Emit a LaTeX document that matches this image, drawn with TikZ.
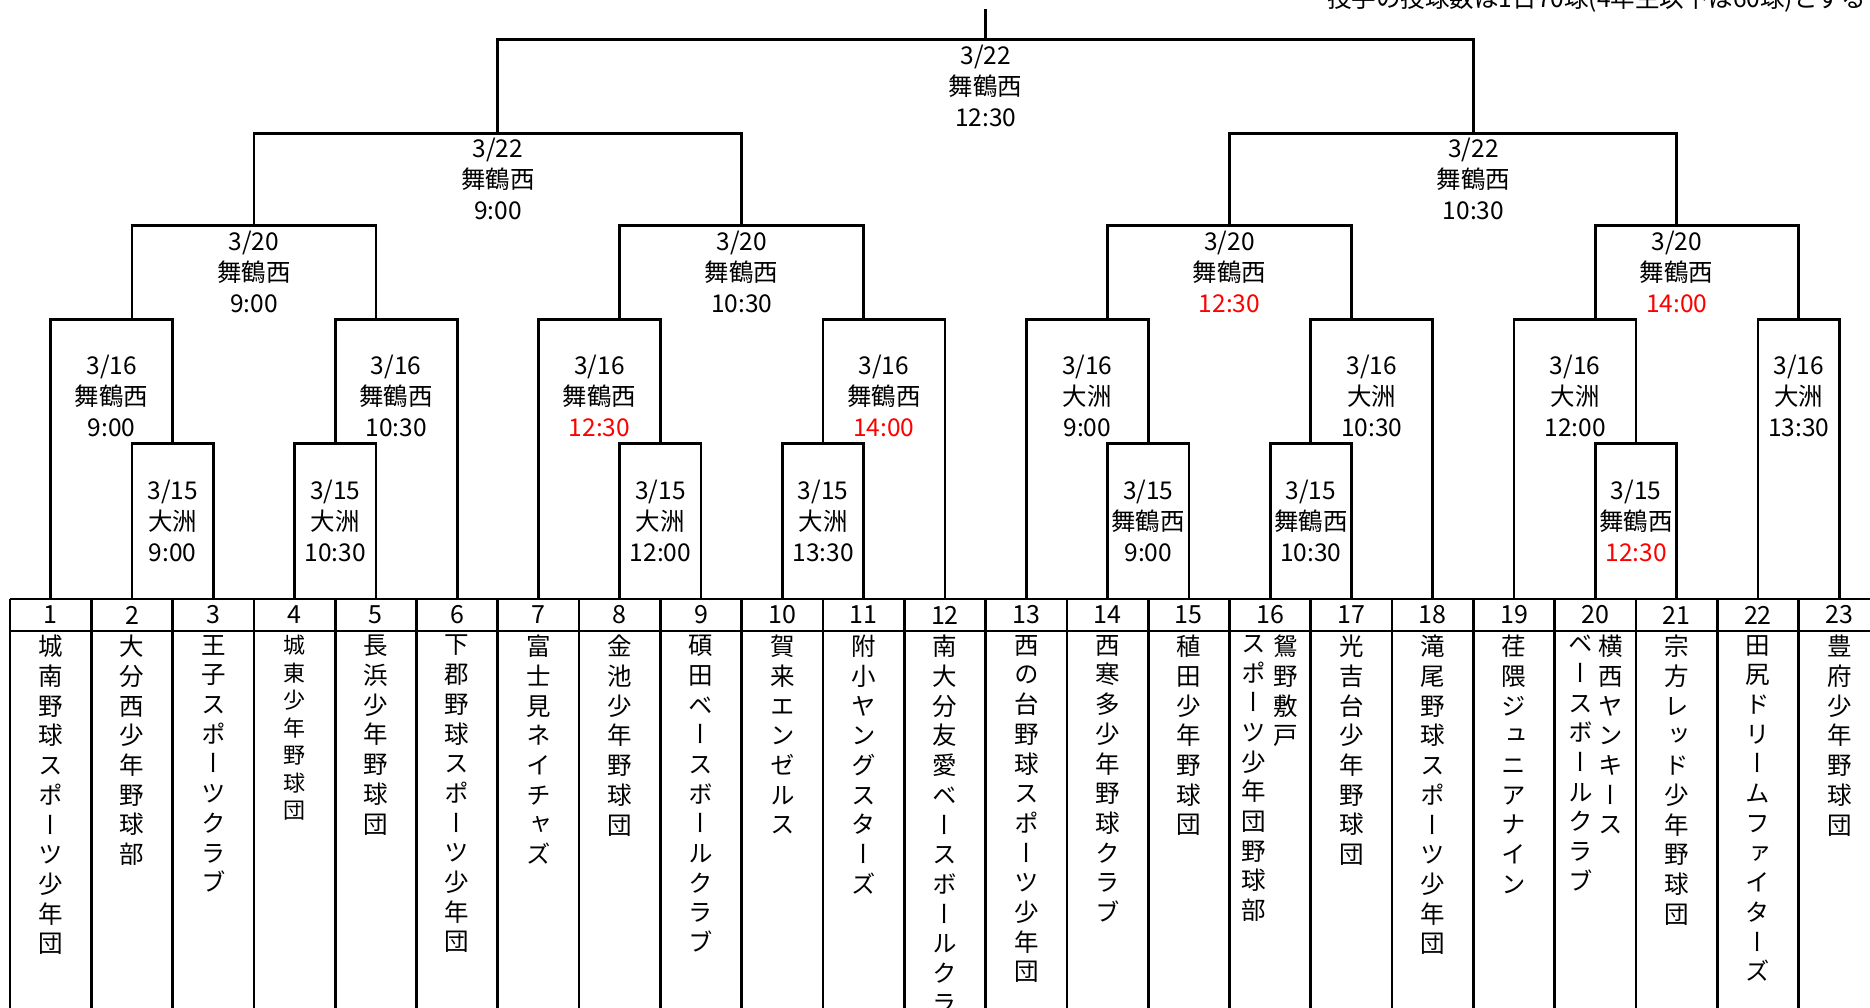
\documentclass[tikz,border=0pt]{standalone}
\usepackage{fontspec}
\setmainfont{Noto Sans CJK JP}
\newfontfamily\vjp[RawFeature=+vert]{Noto Sans CJK JP}
\begin{document}
\begin{tikzpicture}[x=81.3pt,y=-1pt,
  ln/.style={line width=2.7pt},
  info/.style={align=center,inner sep=0pt,font=\fontsize{24.5}{31}\selectfont},
  team/.style={anchor=north,align=center,inner sep=0pt,font=\vjp\fontsize{24.5}{29.7}\selectfont},
  teamsm/.style={team,font=\vjp\fontsize{22}{27.5}\selectfont},
  num/.style={inner sep=0pt,font=\fontsize{25}{30}\selectfont}]
\useasboundingbox (-0.123,0) rectangle (22.878,1007);

% note at top right (clipped by the page edge)
\node[anchor=base east,inner sep=0pt,font=\fontsize{24.5}{30}\selectfont] (note) at (22.83,7) {投手の投球数は1日70球(4年生以下は60球)とする};

% table
\draw[ln] (0,599) -- (23.5,599);
\draw[ln] (0,631) -- (23.5,631);
\foreach \k in {0,...,22} \draw[ln] (\k,599) -- (\k,1012);

\foreach \i in {1,...,23} {
  \coordinate (t\i) at ({\i-0.5},599);
  \node[num] (n\i) at ({\i-0.5},615) {\i};
}

% match points
\coordinate (ra) at (2,443.6);
\coordinate (rb) at (4,443.6);
\coordinate (rc) at (8,443.6);
\coordinate (rd) at (10,443.6);
\coordinate (re) at (14,443.6);
\coordinate (rf) at (16,443.6);
\coordinate (rg) at (20,443.6);
\coordinate (s1) at (1.5,319.6);
\coordinate (s2) at (4.5,319.6);
\coordinate (s3) at (7.5,319.6);
\coordinate (s4) at (10.5,319.6);
\coordinate (s5) at (13.5,319.6);
\coordinate (s6) at (16.5,319.6);
\coordinate (s7) at (19.5,319.6);
\coordinate (s8) at (22,319.6);
\coordinate (q1) at (3,225.4);
\coordinate (q2) at (9,225.4);
\coordinate (q3) at (15,225.4);
\coordinate (q4) at (20.5,225.4);
\coordinate (f1) at (6,133.6);
\coordinate (f2) at (18,133.6);
\coordinate (ch) at (12,39.4);
\coordinate (top) at (12,9);

% brackets
\draw[ln] (t2) |- (ra) -| (t3);
\draw[ln] (t4) |- (rb) -| (t5);
\draw[ln] (t8) |- (rc) -| (t9);
\draw[ln] (t10) |- (rd) -| (t11);
\draw[ln] (t14) |- (re) -| (t15);
\draw[ln] (t16) |- (rf) -| (t17);
\draw[ln] (t20) |- (rg) -| (t21);
\draw[ln] (t1) |- (s1) -| (ra);
\draw[ln] (rb) |- (s2) -| (t6);
\draw[ln] (t7) |- (s3) -| (rc);
\draw[ln] (rd) |- (s4) -| (t12);
\draw[ln] (t13) |- (s5) -| (re);
\draw[ln] (rf) |- (s6) -| (t18);
\draw[ln] (t19) |- (s7) -| (rg);
\draw[ln] (t22) |- (s8) -| (t23);
\draw[ln] (s1) |- (q1) -| (s2);
\draw[ln] (s3) |- (q2) -| (s4);
\draw[ln] (s5) |- (q3) -| (s6);
\draw[ln] (s7) |- (q4) -| (s8);
\draw[ln] (q1) |- (f1) -| (q2);
\draw[ln] (q3) |- (f2) -| (q4);
\draw[ln] (f1) |- (ch) -| (f2);
\draw[ln] (ch) -- (top);

% match labels
\node[info] (chL) at (12,85.9) {3/22\\舞鶴西\\12:30};
\node[info] (f1L) at (6,178.9) {3/22\\舞鶴西\\9:00};
\node[info] (f2L) at (18,178.9) {3/22\\舞鶴西\\10:30};
\node[info] (q1L) at (3,272) {3/20\\舞鶴西\\9:00};
\node[info] (q2L) at (9,272) {3/20\\舞鶴西\\10:30};
\node[info] (q3L) at (15,272) {3/20\\舞鶴西\\\textcolor{red}{12:30}};
\node[info] (q4L) at (20.5,272) {3/20\\舞鶴西\\\textcolor{red}{14:00}};
\node[info] (s1L) at (1.25,396) {3/16\\舞鶴西\\9:00};
\node[info] (s2L) at (4.75,396) {3/16\\舞鶴西\\10:30};
\node[info] (s3L) at (7.25,396) {3/16\\舞鶴西\\\textcolor{red}{12:30}};
\node[info] (s4L) at (10.75,396) {3/16\\舞鶴西\\\textcolor{red}{14:00}};
\node[info] (s5L) at (13.25,396) {3/16\\大洲\\9:00};
\node[info] (s6L) at (16.75,396) {3/16\\大洲\\10:30};
\node[info] (s7L) at (19.25,396) {3/16\\大洲\\12:00};
\node[info] (s8L) at (22,396) {3/16\\大洲\\13:30};
\node[info] (raL) at (2,520.5) {3/15\\大洲\\9:00};
\node[info] (rbL) at (4,520.5) {3/15\\大洲\\10:30};
\node[info] (rcL) at (8,520.5) {3/15\\大洲\\12:00};
\node[info] (rdL) at (10,520.5) {3/15\\大洲\\13:30};
\node[info] (reL) at (14,520.5) {3/15\\舞鶴西\\9:00};
\node[info] (rfL) at (16,520.5) {3/15\\舞鶴西\\10:30};
\node[info] (rgL) at (20,520.5) {3/15\\舞鶴西\\\textcolor{red}{12:30}};

% team names
\node[team] (m1) at (0.5,635) {城\\南\\野\\球\\ス\\ポ\\ー\\ツ\\少\\年\\団};
\node[team] (m2) at (1.5,635) {大\\分\\西\\少\\年\\野\\球\\部};
\node[team] (m3) at (2.5,635) {王\\子\\ス\\ポ\\ー\\ツ\\ク\\ラ\\ブ};
\node[teamsm] (m4) at (3.5,635) {城\\東\\少\\年\\野\\球\\団};
\node[team] (m5) at (4.5,635) {長\\浜\\少\\年\\野\\球\\団};
\node[team] (m6) at (5.5,635) {下\\郡\\野\\球\\ス\\ポ\\ー\\ツ\\少\\年\\団};
\node[team] (m7) at (6.5,635) {富\\士\\見\\ネ\\イ\\チ\\ャ\\ズ};
\node[team] (m8) at (7.5,635) {金\\池\\少\\年\\野\\球\\団};
\node[team] (m9) at (8.5,635) {碩\\田\\ベ\\ー\\ス\\ボ\\ー\\ル\\ク\\ラ\\ブ};
\node[team] (m10) at (9.5,635) {賀\\来\\エ\\ン\\ゼ\\ル\\ス};
\node[team] (m11) at (10.5,635) {附\\小\\ヤ\\ン\\グ\\ス\\タ\\ー\\ズ};
\node[team] (m12) at (11.5,635) {南\\大\\分\\友\\愛\\ベ\\ー\\ス\\ボ\\ー\\ル\\ク\\ラ\\ブ};
\node[team] (m13) at (12.5,635) {西\\の\\台\\野\\球\\ス\\ポ\\ー\\ツ\\少\\年\\団};
\node[team] (m14) at (13.5,635) {西\\寒\\多\\少\\年\\野\\球\\ク\\ラ\\ブ};
\node[team] (m15) at (14.5,635) {稙\\田\\少\\年\\野\\球\\団};
\node[team] (m16a) at (15.697,635) {鴛\\野\\敷\\戸};
\node[team] (m16b) at (15.303,635) {ス\\ポ\\ー\\ツ\\少\\年\\団\\野\\球\\部};
\node[team] (m17) at (16.5,635) {光\\吉\\台\\少\\年\\野\\球\\団};
\node[team] (m18) at (17.5,635) {滝\\尾\\野\\球\\ス\\ポ\\ー\\ツ\\少\\年\\団};
\node[team] (m19) at (18.5,635) {荏\\隈\\ジ\\ュ\\ニ\\ア\\ナ\\イ\\ン};
\node[team] (m20a) at (19.685,635) {横\\西\\ヤ\\ン\\キ\\ー\\ス};
\node[team] (m20b) at (19.315,635) {ベ\\ー\\ス\\ボ\\ー\\ル\\ク\\ラ\\ブ};
\node[team] (m21) at (20.5,635) {宗\\方\\レ\\ッ\\ド\\少\\年\\野\\球\\団};
\node[team] (m22) at (21.5,635) {田\\尻\\ド\\リ\\ー\\ム\\フ\\ァ\\イ\\タ\\ー\\ズ};
\node[team] (m23) at (22.5,635) {豊\\府\\少\\年\\野\\球\\団};
\end{tikzpicture}
\end{document}
